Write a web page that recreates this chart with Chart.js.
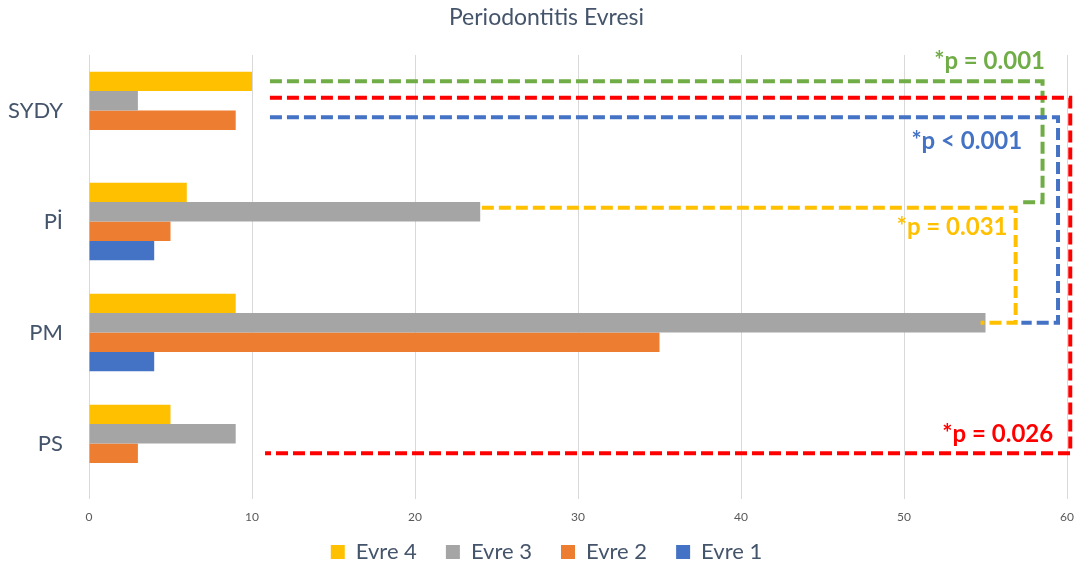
<!DOCTYPE html>
<html lang="tr">
<head>
<meta charset="utf-8">
<title>Periodontitis Evresi</title>
<script src="https://cdn.jsdelivr.net/npm/chart.js@4"></script>
<style>
  html, body { margin: 0; padding: 0; background: #fff; }
  /* canvas sağa doğru biraz taşıyor, başlık ve lejant grafiğin ortasına göre hizalı */
  #wrap { width: 1075px; height: 567px; overflow: hidden; }
</style>
</head>
<body>
<div id="wrap"><canvas id="evreChart" width="1093" height="567"></canvas></div>
<script>
// Veriler: tanı grubu ve evre bazında hasta sayıları
const categories = ['SYDY', 'Pİ', 'PM', 'PS'];
const evre4 = [10, 6, 9, 5];
const evre3 = [3, 24, 55, 9];
const evre2 = [9, 5, 35, 3];
const evre1 = [0, 4, 4, 0];
const xTicks = [0, 10, 20, 30, 40, 50, 60];

const FONT = "Lato, 'Open Sans', sans-serif";
const TEXT = '#44546A';

// Anlamlılık köşeli çizgileri: x değerleri eksen biriminde,
// y değerleri [dataset, kategori, piksel kaydırma] ile çubuğa bağlı
const pBrackets = [
  { text: '*p = 0.001', color: '#70AD47', from: 11.1, turn: 58.5, to: 57.1,
    top: [0, 0, 0], bottom: [0, 1, 10], labelX: 58.65, label: [0, 0, -20] },
  { text: '*p = 0.026', color: '#FF0000', from: 11.1, turn: 60.2, to: 10.8,
    top: [1, 0, -3], bottom: [2, 3, 0], labelX: 59.15, label: [2, 3, -19] },
  { text: '*p < 0.001', color: '#4472C4', from: 11.1, turn: 59.45, to: 57.2,
    top: [2, 0, -3], bottom: [1, 2, 0], labelX: 57.25, label: [2, 0, 21] },
  { text: '*p = 0.031', color: '#FFC000', from: 24.1, turn: 56.85, to: 54.7,
    top: [1, 1, -4], bottom: [1, 2, 0], labelX: 56.35, label: [1, 1, 15] }
];

const bracketPlugin = {
  id: 'pBrackets',
  afterDatasetsDraw(chart) {
    const { ctx } = chart;
    const x = chart.scales.x;
    const barY = ([ds, cat, dy]) => chart.getDatasetMeta(ds).data[cat].y + dy;
    ctx.save();
    pBrackets.forEach(b => {
      const yTop = barY(b.top);
      const yBot = barY(b.bottom);
      const xt = x.getPixelForValue(b.turn);
      ctx.strokeStyle = b.color;
      ctx.lineWidth = 4;
      ctx.setLineDash([12, 5]);
      ctx.beginPath();
      ctx.moveTo(x.getPixelForValue(b.from), yTop);
      ctx.lineTo(xt, yTop);
      ctx.lineTo(xt, yBot);
      ctx.lineTo(x.getPixelForValue(b.to), yBot);
      ctx.stroke();

      ctx.fillStyle = b.color;
      ctx.font = `bold 24px ${FONT}`;
      ctx.textAlign = 'right';
      ctx.textBaseline = 'middle';
      ctx.fillText(b.text, x.getPixelForValue(b.labelX), barY(b.label));
    });
    ctx.restore();
  }
};

// lejant eksen etiketlerine biraz daha yakın dursun (alt kenar yerinde kalıyor)
const legendLift = {
  id: 'legendLift',
  afterLayout(chart) {
    chart.legend.top -= 13;
  }
};

const ctx = document.getElementById('evreChart').getContext('2d');
new Chart(ctx, {
  type: 'bar',
  data: {
    labels: categories,
    datasets: [
      { label: 'Evre 4', data: evre4, backgroundColor: '#FFC000' },
      { label: 'Evre 3', data: evre3, backgroundColor: '#A5A5A5' },
      { label: 'Evre 2', data: evre2, backgroundColor: '#ED7D31' },
      { label: 'Evre 1', data: evre1, backgroundColor: '#4472C4' }
    ]
  },
  options: {
    indexAxis: 'y',
    responsive: false,
    animation: false,
    datasets: { bar: { barPercentage: 1, categoryPercentage: 0.70, borderWidth: 0 } },
    layout: { padding: 0 },
    plugins: {
      title: {
        display: true,
        text: 'Periodontitis Evresi',
        color: TEXT,
        font: { family: FONT, size: 23, weight: 'normal' },
        padding: { top: 4, bottom: 23.4 }
      },
      legend: {
        position: 'bottom',
        maxHeight: 42,
        labels: {
          boxWidth: 14,
          boxHeight: 14,
          padding: 29,
          color: TEXT,
          font: { family: FONT, size: 22 }
        }
      },
      tooltip: { enabled: false }
    },
    scales: {
      x: {
        min: 0,
        max: 60,
        afterBuildTicks: s => { s.ticks = xTicks.map(v => ({ value: v })); },
        afterFit: s => {
          s.height = 26;
          s.paddingLeft = 0;
          s.paddingRight = 26;
        },
        grid: { color: '#D9D9D9', drawTicks: false },
        border: { display: false },
        ticks: { color: '#595959', padding: 11, maxRotation: 0, font: { family: FONT, size: 12 } }
      },
      y: {
        afterFit: s => { s.width = 89; },
        grid: { display: false, drawTicks: false },
        border: { display: false },
        ticks: { color: TEXT, padding: 26, font: { family: FONT, size: 22 } }
      }
    }
  },
  plugins: [bracketPlugin, legendLift]
});
</script>
</body>
</html>
